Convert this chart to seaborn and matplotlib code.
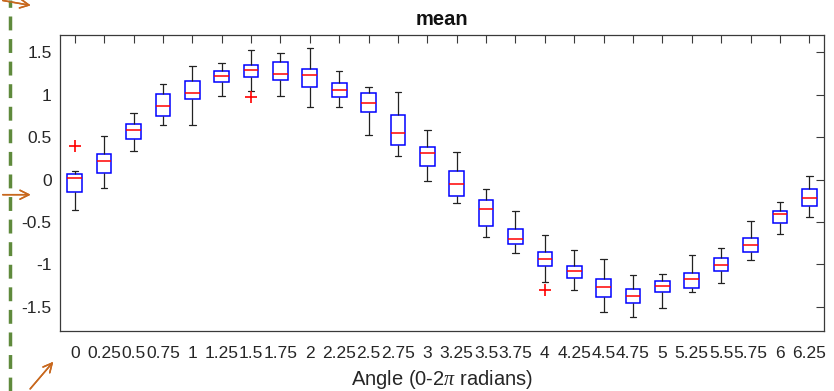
import matplotlib.pyplot as plt
import seaborn as sns
import pandas as pd
from matplotlib.lines import Line2D

# box stats (one entry per angle)
angles = ["0", "0.25", "0.5", "0.75", "1", "1.25", "1.5", "1.75", "2", "2.25",
          "2.5", "2.75", "3", "3.25", "3.5", "3.75", "4", "4.25", "4.5", "4.75",
          "5", "5.25", "5.5", "5.75", "6", "6.25"]
lo = [-0.357, -0.094, 0.338, 0.641, 0.649, 0.990, 1.050, 0.987, 0.857, 0.854,
      0.527, 0.283, -0.012, -0.278, -0.672, -0.861, -1.206, -1.297, -1.557, -1.623,
      -1.517, -1.328, -1.218, -0.951, -0.640, -0.436]
q1 = [-0.145, 0.079, 0.480, 0.751, 0.952, 1.149, 1.207, 1.179, 1.090, 0.979,
      0.800, 0.405, 0.165, -0.196, -0.542, -0.762, -1.018, -1.159, -1.383, -1.454,
      -1.328, -1.274, -1.081, -0.849, -0.511, -0.310]
med = [0.024, 0.224, 0.583, 0.873, 1.022, 1.219, 1.297, 1.250, 1.238, 1.061,
       0.908, 0.554, 0.311, -0.047, -0.349, -0.696, -0.939, -1.080, -1.269, -1.368,
       -1.254, -1.171, -1.006, -0.774, -0.408, -0.219]
q3 = [0.064, 0.300, 0.660, 1.010, 1.164, 1.278, 1.349, 1.390, 1.309, 1.144,
      1.019, 0.763, 0.389, 0.106, -0.243, -0.585, -0.849, -1.021, -1.175, -1.293,
      -1.191, -1.104, -0.920, -0.691, -0.373, -0.106]
hi = [0.100, 0.515, 0.790, 1.132, 1.344, 1.376, 1.530, 1.490, 1.550, 1.282,
      1.090, 1.038, 0.590, 0.323, -0.110, -0.366, -0.652, -0.833, -0.932, -1.127,
      -1.108, -0.888, -0.802, -0.491, -0.263, 0.040]
out_idx = [0, 6, 16]
out_val = [0.40, 0.975, -1.297]

yticks = [-1.5, -1, -0.5, 0, 0.5, 1, 1.5]

# 9 values per angle so the quartiles land exactly on the read stats
rows = []
for i, a in enumerate(angles):
    pts = [lo[i], lo[i], q1[i], med[i], med[i], q3[i], q3[i], hi[i], hi[i]]
    if i in out_idx:
        v = out_val[out_idx.index(i)]
        if v > hi[i]:
            pts[-1] = v
        else:
            pts[0] = v
    for p in pts:
        rows.append({"angle": a, "value": p})
df = pd.DataFrame(rows)

sns.set_theme(style="white")
plt.rcParams["font.family"] = ["Liberation Sans", "DejaVu Sans"]
plt.rcParams["mathtext.fontset"] = "custom"
plt.rcParams["mathtext.it"] = "Liberation Serif:italic"

fig = plt.figure(figsize=(8.34, 3.91), dpi=100)
ax = fig.add_axes([0.072, 0.1535, 0.916, 0.757])

sns.boxplot(data=df, x="angle", y="value", order=angles, ax=ax,
            width=0.5, whis=1.5, color="white", linecolor="blue", linewidth=1.1,
            boxprops=dict(facecolor="white", edgecolor="blue"),
            medianprops=dict(color="red", linewidth=1.1),
            whiskerprops=dict(color="#222222", linewidth=0.9),
            capprops=dict(color="#222222", linewidth=0.9),
            flierprops=dict(marker="+", markeredgecolor="red", markersize=9,
                            markeredgewidth=1.2),
            capwidths=0.22)

axc = "#3a3a3a"
ax.set_xlim(-0.5, len(angles) - 0.5)
ax.set_ylim(-1.784, 1.706)
ax.set_yticks(yticks)
ax.set_yticklabels(["%g" % t for t in yticks])
ax.set_xticks(range(len(angles)))
ax.set_xticklabels(angles)
ax.tick_params(direction="in", top=True, right=True, length=5.5, width=0.8,
               color=axc, labelcolor="#262626", labelsize=12.5)
ax.tick_params(axis="x", pad=11)
ax.tick_params(axis="y", pad=6)
for s in ax.spines.values():
    s.set_color(axc)
    s.set_linewidth(0.9)
ax.set_ylabel("")
ax.set_xlabel("Angle (0-2$\\pi$ radians)", fontsize=14.5, color="#262626", labelpad=5)
ax.set_title("mean", fontsize=14.5, fontweight="bold", color="#111111", pad=7)

# slide decorations around the figure
fig.add_artist(Line2D([0.012, 0.012], [0, 1], transform=fig.transFigure,
                      color="#5f8a3c", linewidth=2.5, linestyle=(0, (4, 2.5))))
arrow = dict(arrowstyle="->", color="#c8681e", lw=1.1, mutation_scale=16)
fig.add_artist(plt.annotate("", xy=(0.04, 0.985), xytext=(0.0, 1.0),
                            xycoords="figure fraction", arrowprops=arrow))
fig.add_artist(plt.annotate("", xy=(0.04, 0.502), xytext=(0.0, 0.502),
                            xycoords="figure fraction", arrowprops=arrow))
fig.add_artist(plt.annotate("", xy=(0.066, 0.08), xytext=(0.034, 0.0),
                            xycoords="figure fraction", arrowprops=arrow))

plt.savefig("out.png", dpi=100)
